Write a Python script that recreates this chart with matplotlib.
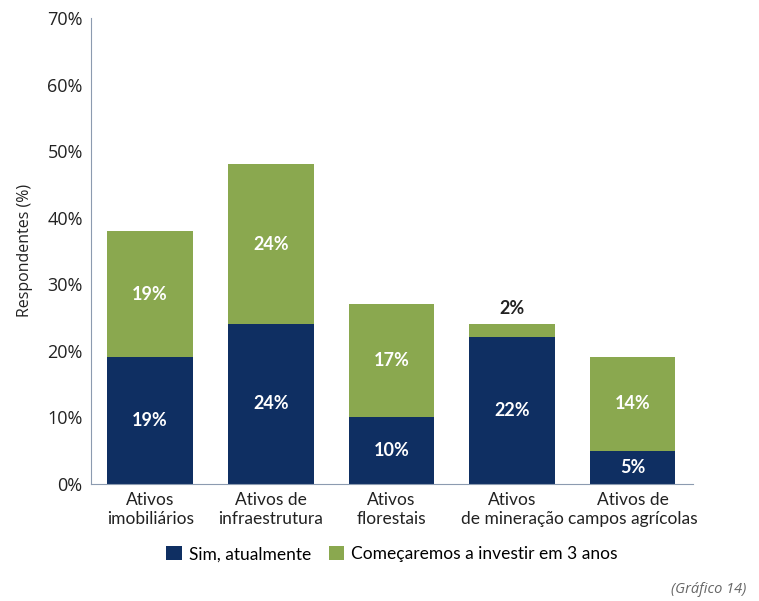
import matplotlib.pyplot as plt
import numpy as np

categories = ["Ativos\nimobiliários", "Ativos de\ninfraestrutura", "Ativos\nflorestais",
              "Ativos\nde mineração", "Ativos de\ncampos agrícolas"]
atualmente = [19, 24, 10, 22, 5]
tres_anos = [19, 24, 17, 2, 14]
series_names = ["Sim, atualmente", "Começaremos a investir em 3 anos"]
yticks = [0, 10, 20, 30, 40, 50, 60, 70]

navy = "#0f2f62"
green = "#8aa84f"
narrow = ["Lato", "DejaVu Sans"]

plt.rcParams["font.family"] = ["Open Sans", "DejaVu Sans"]

fig = plt.figure(figsize=(7.59, 6.01), dpi=100)
ax = fig.add_axes([0.12, 0.195, 0.793, 0.775])

x = np.arange(len(categories))
w = 0.71
ax.bar(x, atualmente, w, color=navy, label=series_names[0])
ax.bar(x, tres_anos, w, bottom=atualmente, color=green, label=series_names[1])

lbl = dict(ha="center", va="center", fontsize=13, fontweight="bold", family=narrow)
for i in range(len(categories)):
    ax.text(x[i], atualmente[i] / 2, f"{atualmente[i]}%", color="white", **lbl)
    if tres_anos[i] >= 5:
        ax.text(x[i], atualmente[i] + tres_anos[i] / 2, f"{tres_anos[i]}%", color="white", **lbl)
    else:
        ax.text(x[i], atualmente[i] + tres_anos[i] + 2.3, f"{tres_anos[i]}%", color="#222222", **lbl)

ax.set_xlim(-0.49, 4.5)
ax.set_ylim(0, 70)
ax.set_yticks(yticks)
ax.set_yticklabels([f"{v}%" for v in yticks], fontsize=13, color="#222222")
ax.set_xticks(x)
ax.set_xticklabels(categories, fontsize=12.5, color="#222222", linespacing=1.25, family=narrow)
ax.tick_params(length=0, pad=6)
ax.set_ylabel("Respondentes (%)", fontsize=11.5, color="#222222", labelpad=10)

for s in ["top", "right"]:
    ax.spines[s].set_visible(False)
ax.spines["left"].set_color("#8c9bb0")
ax.spines["bottom"].set_color("#8c9bb0")

ax.legend(loc="upper center", bbox_to_anchor=(0.5, -0.1), ncol=2, frameon=False,
          handlelength=0.9, handleheight=0.9, handletextpad=0.4,
          columnspacing=1.0, prop={"family": narrow, "size": 12.5})

fig.text(0.983, 0.006, "(Gráfico 14)", ha="right", va="bottom", fontsize=10.5,
         style="italic", color="#666666")

fig.savefig("out.png", dpi=100)
